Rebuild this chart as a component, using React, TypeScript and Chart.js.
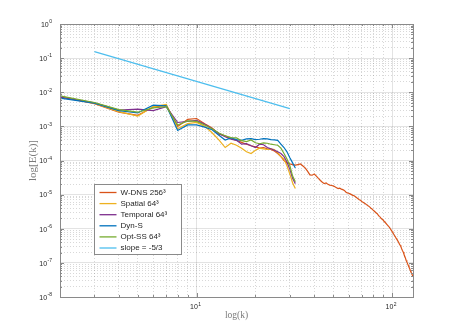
import React, { useEffect, useRef } from "react";
import { Chart, registerables } from "chart.js";

Chart.register(...registerables);

// ---------------- data ----------------
const LES_K = [2, 3, 4, 5, 6, 7, 8, 9, 10, 11, 12, 13, 14, 15, 16, 17, 18, 19, 20, 21, 22, 23, 24, 25, 26, 27, 28, 29, 30, 31, 32];

const DNS_K = [
  2, 3, 4, 5, 6, 7, 8, 9, 10, 11,
  12, 13, 14, 15, 16, 17, 18, 19, 20, 21,
  22, 23, 24, 25, 26, 27, 28, 29, 30, 31,
  32, 33, 34, 35, 36, 37, 38, 39, 40, 41,
  42, 43, 44, 45, 46, 47, 48, 49, 50, 51,
  52, 53, 54, 55, 56, 57, 58, 59, 60, 61,
  62, 63, 64, 65, 66, 67, 68, 69, 70, 71,
  72, 73, 74, 75, 76, 77, 78, 79, 80, 81,
  82, 83, 84, 85, 86, 87, 88, 89, 90, 91,
  92, 93, 94, 95, 96, 97, 98, 99, 100, 101,
  102, 103, 104, 105, 106, 107, 108, 109, 110, 111,
  112, 113, 114, 115, 116, 117, 118, 119, 120, 121,
  122, 123, 124, 125, 126, 127, 128,
];

const W_DNS = [
  7.5e-3, 4.6e-3, 2.6e-3, 2.1e-3, 3.7e-3, 4.1e-3, 1.0e-3, 1.6e-3, 1.7e-3, 1.2e-3,
  9.0e-4, 5.9e-4, 5.3e-4, 4.4e-4, 3.9e-4, 3.4e-4, 3.0e-4, 2.7e-4, 2.5e-4, 2.3e-4,
  2.4e-4, 2.2e-4, 2.1e-4, 1.9e-4, 1.6e-4, 1.3e-4, 1.0e-4, 8.5e-5, 8.0e-5, 7.6e-5,
  7.3e-5, 7.6e-5, 7.9e-5, 6.9e-5, 6.0e-5, 4.8e-5, 3.8e-5, 3.7e-5, 4.0e-5, 3.5e-5,
  3.0e-5, 2.6e-5, 2.3e-5, 2.1e-5, 2.2e-5, 2.0e-5, 1.9e-5, 1.85e-5, 1.8e-5, 1.7e-5,
  1.6e-5, 1.5e-5, 1.55e-5, 1.45e-5, 1.4e-5, 1.33e-5, 1.2e-5, 1.12e-5, 1.1e-5, 1.05e-5,
  1.0e-5, 9.5e-6, 9.3e-6, 8.7e-6, 8.1e-6, 7.6e-6, 7.1e-6, 6.8e-6, 6.3e-6, 6.0e-6,
  5.7e-6, 5.4e-6, 5.1e-6, 4.8e-6, 4.6e-6, 4.3e-6, 4.0e-6, 3.8e-6, 3.5e-6, 3.3e-6,
  3.1e-6, 2.9e-6, 2.75e-6, 2.5e-6, 2.3e-6, 2.2e-6, 2.0e-6, 1.9e-6, 1.8e-6, 1.66e-6,
  1.55e-6, 1.45e-6, 1.35e-6, 1.26e-6, 1.17e-6, 1.1e-6, 1.0e-6, 9.1e-7, 8.3e-7, 7.6e-7,
  6.9e-7, 6.3e-7, 5.8e-7, 5.2e-7, 4.8e-7, 4.4e-7, 4.0e-7, 3.6e-7, 3.3e-7, 3.0e-7,
  2.6e-7, 2.3e-7, 2.1e-7, 1.8e-7, 1.6e-7, 1.4e-7, 1.2e-7, 1.07e-7, 9.5e-8, 8.5e-8,
  7.6e-8, 6.8e-8, 6.0e-8, 5.4e-8, 4.8e-8, 4.4e-8, 4.0e-8,
];

const SPATIAL = [
  7.6e-3, 4.7e-3, 2.7e-3, 2.0e-3, 3.8e-3, 4.4e-3, 8.5e-4, 1.2e-3, 1.3e-3, 1.0e-3,
  6.5e-4, 4.0e-4, 2.4e-4, 3.2e-4, 2.8e-4, 2.3e-4, 1.8e-4, 1.6e-4, 2.0e-4, 2.3e-4,
  2.2e-4, 2.1e-4, 2.2e-4, 2.1e-4, 1.7e-4, 1.3e-4, 1.1e-4, 7.0e-5, 4.0e-5, 2.2e-5,
  1.5e-5,
];

const TEMPORAL = [
  7.2e-3, 4.9e-3, 3.0e-3, 3.2e-3, 2.9e-3, 3.8e-3, 1.3e-3, 1.4e-3, 1.5e-3, 1.15e-3,
  8.5e-4, 6.2e-4, 5.0e-4, 4.2e-4, 3.9e-4, 3.0e-4, 3.1e-4, 2.7e-4, 2.4e-4, 3.0e-4,
  2.9e-4, 2.4e-4, 2.2e-4, 2.0e-4, 1.8e-4, 1.6e-4, 1.3e-4, 9.0e-5, 5.5e-5, 3.0e-5,
  2.1e-5,
];

const DYN_S = [
  6.7e-3, 4.8e-3, 2.9e-3, 2.5e-3, 4.2e-3, 4.0e-3, 7.6e-4, 1.1e-3, 1.1e-3, 9.5e-4,
  8.0e-4, 5.5e-4, 4.0e-4, 4.6e-4, 4.1e-4, 3.9e-4, 4.3e-4, 4.4e-4, 4.1e-4, 4.2e-4,
  4.4e-4, 4.3e-4, 4.1e-4, 4.0e-4, 3.9e-4, 3.0e-4, 2.4e-4, 1.8e-4, 1.2e-4, 8.5e-5,
  6.0e-5,
];

const OPT_SS = [
  7.8e-3, 5.0e-3, 3.1e-3, 2.6e-3, 3.5e-3, 3.8e-3, 1.1e-3, 1.45e-3, 1.4e-3, 1.1e-3,
  8.5e-4, 6.4e-4, 5.3e-4, 4.7e-4, 4.6e-4, 3.8e-4, 3.6e-4, 4.0e-4, 3.3e-4, 3.1e-4,
  3.3e-4, 3.2e-4, 3.0e-4, 2.9e-4, 2.8e-4, 2.3e-4, 1.6e-4, 1.1e-4, 7.0e-5, 3.5e-5,
  2.4e-5,
];

const SLOPE_K = [3, 30];
const SLOPE_E = [0.155, 0.0033];

const SERIES_LABELS = ["W-DNS 256³", "Spatial 64³", "Temporal 64³", "Dyn-S", "Opt-SS 64³", "slope = -5/3"];
const SERIES_COLORS = ["#D95319", "#EDB120", "#7E2F8E", "#0072BD", "#77AC30", "#4DBEEE"];

const X_MIN = 2;
const X_MAX = 128;
const Y_MIN = 1e-8;
const Y_MAX = 1;
const X_TITLE = "log(k)";
const Y_TITLE = "log[E(k)]";

// ---------------- styling helpers ----------------
const SANS = "'Liberation Sans', Arial, Helvetica, sans-serif";
const SERIF = "'Liberation Serif', 'DejaVu Serif', serif";
const AXIS_COLOR = "#8a8a8a";
const TICK_TEXT = "#262626";
const TITLE_COLOR = "#7a7a7a";
const GRID_MAJOR = "rgba(38,38,38,0.13)";
const GRID_MINOR = "rgba(38,38,38,0.18)";

function exponentOf(v: number): number | null {
  if (!(v > 0)) return null;
  const e = Math.round(Math.log10(v));
  if (Math.abs(v / Math.pow(10, e) - 1) > 1e-6) return null;
  return e;
}

function isMajor(v: number): boolean {
  return exponentOf(v) !== null;
}

function logTicks(min: number, max: number) {
  const out: { value: number }[] = [];
  const e0 = Math.floor(Math.log10(min));
  const e1 = Math.ceil(Math.log10(max));
  for (let e = e0; e <= e1; e++) {
    for (let m = 1; m <= 9; m++) {
      const v = m * Math.pow(10, e);
      if (v >= min * 0.999999 && v <= max * 1.000001) out.push({ value: v });
    }
  }
  return out;
}

const BASE_FONT = `7px ${SANS}`;
const EXP_FONT = `5px ${SANS}`;

function drawPowLabel(ctx: CanvasRenderingContext2D, e: number, x: number, baseline: number, align: "right" | "center") {
  const expStr = String(e);
  ctx.font = BASE_FONT;
  const w10 = ctx.measureText("10").width;
  ctx.font = EXP_FONT;
  const wExp = ctx.measureText(expStr).width;
  const total = w10 + wExp + 0.5;
  const x0 = align === "right" ? x - total : x - total / 2;
  ctx.textAlign = "left";
  ctx.textBaseline = "alphabetic";
  ctx.font = BASE_FONT;
  ctx.fillText("10", x0, baseline);
  ctx.font = EXP_FONT;
  ctx.fillText(expStr, x0 + w10 + 0.5, baseline - 3.5);
}

const framePlugin = {
  id: "frame",
  afterDraw(chart: any) {
    const { ctx, chartArea: a, scales } = chart;
    const xs = scales.x;
    const ys = scales.y;
    ctx.save();
    // inward tick marks and box
    ctx.strokeStyle = AXIS_COLOR;
    ctx.lineWidth = 1;
    ctx.beginPath();
    xs.ticks.forEach((t: any) => {
      const px = Math.round(xs.getPixelForValue(t.value)) + 0.5;
      const len = isMajor(t.value) ? 4 : 2;
      ctx.moveTo(px, a.bottom);
      ctx.lineTo(px, a.bottom - len);
      ctx.moveTo(px, a.top);
      ctx.lineTo(px, a.top + len);
    });
    ys.ticks.forEach((t: any) => {
      const py = Math.round(ys.getPixelForValue(t.value)) + 0.5;
      const len = isMajor(t.value) ? 4 : 2;
      ctx.moveTo(a.left, py);
      ctx.lineTo(a.left + len, py);
      ctx.moveTo(a.right, py);
      ctx.lineTo(a.right - len, py);
    });
    ctx.stroke();
    ctx.strokeRect(Math.round(a.left) + 0.5, Math.round(a.top) + 0.5, Math.round(a.right - a.left), Math.round(a.bottom - a.top));

    // tick labels with superscript exponents
    ctx.fillStyle = TICK_TEXT;
    ys.ticks.forEach((t: any) => {
      const e = exponentOf(t.value);
      if (e === null) return;
      const py = ys.getPixelForValue(t.value);
      drawPowLabel(ctx, e, a.left - 8, py + 2.8, "right");
    });
    xs.ticks.forEach((t: any) => {
      const e = exponentOf(t.value);
      if (e === null) return;
      const px = xs.getPixelForValue(t.value);
      drawPowLabel(ctx, e, px - 1, a.bottom + 12, "center");
    });

    // legend box
    const bx = Math.round(a.left + 34) + 0.5;
    const by = Math.round(a.top + 160) + 0.5;
    const bw = 87;
    const bh = 70;
    ctx.fillStyle = "#ffffff";
    ctx.fillRect(bx, by, bw, bh);
    ctx.strokeStyle = "#8a8a8a";
    ctx.lineWidth = 1;
    ctx.strokeRect(bx, by, bw, bh);
    ctx.font = `8px ${SANS}`;
    ctx.textBaseline = "middle";
    ctx.textAlign = "left";
    chart.data.datasets.forEach((ds: any, i: number) => {
      const cy = by + 8 + i * 11.1;
      ctx.strokeStyle = ds.borderColor;
      ctx.lineWidth = 1.3;
      ctx.beginPath();
      ctx.moveTo(bx + 5, cy);
      ctx.lineTo(bx + 22, cy);
      ctx.stroke();
      ctx.fillStyle = TICK_TEXT;
      ctx.fillText(ds.label, bx + 26, cy);
    });
    ctx.restore();
  },
};

function toPoints(xs: number[], ys: number[]) {
  return xs.map((x, i) => ({ x, y: ys[i] }));
}

export default function App() {
  const canvasRef = useRef<HTMLCanvasElement | null>(null);

  useEffect(() => {
    if (!canvasRef.current) return;
    const seriesData = [
      toPoints(DNS_K, W_DNS),
      toPoints(LES_K, SPATIAL),
      toPoints(LES_K, TEMPORAL),
      toPoints(LES_K, DYN_S),
      toPoints(LES_K, OPT_SS),
      toPoints(SLOPE_K, SLOPE_E),
    ];
    const datasets = seriesData.map((data, i) => ({
      label: SERIES_LABELS[i],
      data,
      borderColor: SERIES_COLORS[i],
      backgroundColor: SERIES_COLORS[i],
      borderWidth: 1.2,
      pointRadius: 0,
      tension: 0,
      fill: false,
      order: seriesData.length - i,
    }));

    const gridColor = (c: any) => (c.tick && isMajor(c.tick.value) ? GRID_MAJOR : GRID_MINOR);
    const gridDash = (c: any) => (c.tick && !isMajor(c.tick.value) ? [1, 2] : []);

    const chart = new Chart(canvasRef.current, {
      type: "line",
      data: { datasets },
      options: {
        animation: false,
        responsive: true,
        maintainAspectRatio: false,
        layout: { padding: { left: 27, top: 24, right: 44, bottom: 13 } },
        plugins: { legend: { display: false }, tooltip: { enabled: false } },
        scales: {
          x: {
            type: "logarithmic",
            min: X_MIN,
            max: X_MAX,
            afterBuildTicks: (s: any) => {
              s.ticks = logTicks(X_MIN, X_MAX);
            },
            afterFit: (s: any) => {
              s.height = 24;
            },
            ticks: { display: false, autoSkip: false },
            grid: { drawTicks: false, color: gridColor, lineWidth: 1 },
            border: { display: true, color: AXIS_COLOR, dash: gridDash },
            title: {
              display: true,
              text: X_TITLE,
              color: TITLE_COLOR,
              font: { family: SERIF, size: 9.5 },
              padding: 0,
            },
          },
          y: {
            type: "logarithmic",
            min: Y_MIN,
            max: Y_MAX,
            afterBuildTicks: (s: any) => {
              s.ticks = logTicks(Y_MIN, Y_MAX);
            },
            afterFit: (s: any) => {
              s.width = 33;
            },
            ticks: { display: false, autoSkip: false },
            grid: { drawTicks: false, color: gridColor, lineWidth: 1 },
            border: { display: true, color: AXIS_COLOR, dash: gridDash },
            title: {
              display: true,
              text: Y_TITLE,
              color: TITLE_COLOR,
              font: { family: SERIF, size: 11 },
              padding: 0,
            },
          },
        },
      } as any,
      plugins: [framePlugin],
    });
    return () => chart.destroy();
  }, []);

  return (
    <div style={{ position: "fixed", left: 0, top: 0, width: 457, height: 334, background: "#ffffff" }}>
      <canvas ref={canvasRef} />
    </div>
  );
}
